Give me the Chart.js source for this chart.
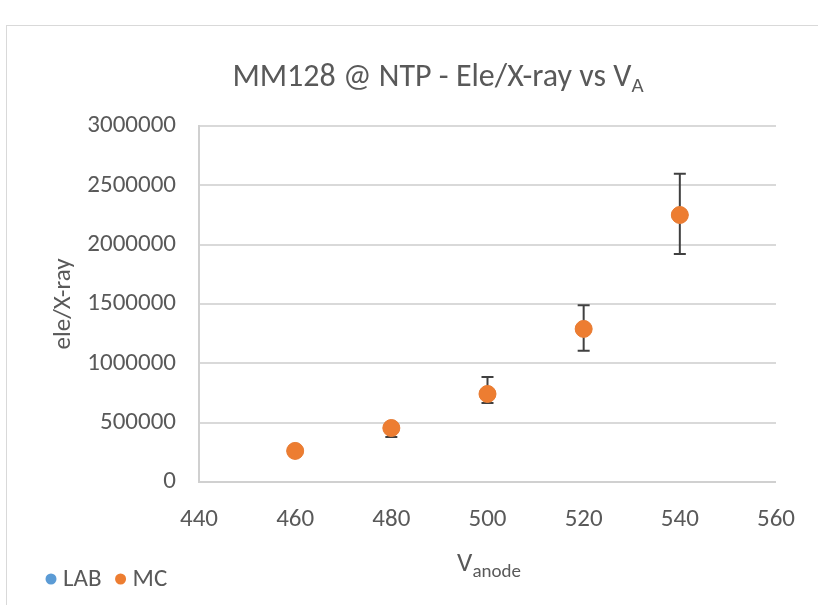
<!DOCTYPE html>
<html>
<head>
<meta charset="utf-8">
<script src="https://cdn.jsdelivr.net/npm/chart.js@4.4.0/dist/chart.umd.min.js"></script>
<style>
  html, body { margin: 0; padding: 0; background: #fff; }
  #wrap { position: relative; width: 818px; height: 605px; }
  #frame { position: absolute; left: 6px; top: 25px; width: 830px; height: 600px; border: 1px solid #d9d9d9; box-sizing: border-box; }
  canvas { position: absolute; left: 0; top: 0; }
</style>
</head>
<body>
<div id="wrap">
  <div id="frame"></div>
  <canvas id="chart" width="818" height="605"></canvas>
</div>
<script>
// data
const vAnode = [460, 480, 500, 520, 540];
const labValues = [262000, 455000, 742000, 1290000, 2250000];
const mcValues = [262000, 455000, 742000, 1290000, 2250000];
const errUpper = [null, 500000, 885000, 1490000, 2597000];
const errLower = [null, 380000, 666000, 1105000, 1922000];
const xTicks = [440, 460, 480, 500, 520, 540, 560];
const yTicks = [0, 500000, 1000000, 1500000, 2000000, 2500000, 3000000];

const FONT = 'Carlito, "Liberation Sans Narrow", "Open Sans", sans-serif';
const TXT = '#595959';

// error bars + titles + legend
const extras = {
  id: 'extras',
  beforeDatasetsDraw(chart) {
    const { ctx, scales: { x, y } } = chart;
    ctx.save();
    ctx.strokeStyle = '#404040';
    ctx.lineWidth = 2;
    vAnode.forEach((v, i) => {
      if (errUpper[i] == null) return;
      const px = x.getPixelForValue(v);
      const top = y.getPixelForValue(errUpper[i]);
      const bot = y.getPixelForValue(errLower[i]);
      ctx.beginPath();
      ctx.moveTo(px, top); ctx.lineTo(px, bot);
      ctx.moveTo(px - 6, top); ctx.lineTo(px + 6, top);
      ctx.moveTo(px - 6, bot); ctx.lineTo(px + 6, bot);
      ctx.stroke();
    });
    ctx.restore();
  },
  afterDraw(chart) {
    const { ctx } = chart;
    ctx.save();
    ctx.textBaseline = 'alphabetic';
    ctx.textAlign = 'left';
    ctx.fillStyle = TXT;

    // title with subscript A
    const t1 = 'MM128 @ NTP - Ele/X-ray vs V';
    ctx.font = '32px ' + FONT;
    const w1 = ctx.measureText(t1).width;
    ctx.font = '21px ' + FONT;
    const w2 = ctx.measureText('A').width;
    const sx = 438 - (w1 + w2) / 2;
    ctx.font = '32px ' + FONT;
    ctx.fillText(t1, sx, 86);
    ctx.font = '21px ' + FONT;
    ctx.fillText('A', sx + w1, 92);

    // x axis title
    ctx.font = '27px ' + FONT;
    const a1 = ctx.measureText('V').width;
    ctx.font = '19px ' + FONT;
    const a2 = ctx.measureText('anode').width;
    const ax = 489 - (a1 + a2) / 2;
    ctx.font = '27px ' + FONT;
    ctx.fillText('V', ax, 571);
    ctx.font = '19px ' + FONT;
    ctx.fillText('anode', ax + a1, 577);

    // y axis title
    ctx.translate(70, 304);
    ctx.rotate(-Math.PI / 2);
    ctx.textAlign = 'center';
    ctx.font = '25px ' + FONT;
    ctx.fillText('ele/X-ray', 0, 0);
    ctx.setTransform(1, 0, 0, 1, 0, 0);

    // legend
    ctx.font = '25px ' + FONT;
    ctx.textAlign = 'left';
    ctx.textBaseline = 'middle';
    const items = [['LAB', '#5B9BD5'], ['MC', '#ED7D31']];
    let lx = 51;
    items.forEach(([name, col]) => {
      ctx.fillStyle = col;
      ctx.beginPath(); ctx.arc(lx, 579, 5.5, 0, Math.PI * 2); ctx.fill();
      ctx.fillStyle = TXT;
      ctx.fillText(name, lx + 12, 580);
      lx += 12 + ctx.measureText(name).width + 19;
    });
    ctx.restore();
  }
};

new Chart(document.getElementById('chart'), {
  type: 'scatter',
  data: {
    datasets: [
      {
        label: 'LAB',
        data: vAnode.map((v, i) => ({ x: v, y: labValues[i] })),
        backgroundColor: '#5B9BD5',
        borderColor: '#5B9BD5',
        pointRadius: 8,
        order: 2
      },
      {
        label: 'MC',
        data: vAnode.map((v, i) => ({ x: v, y: mcValues[i] })),
        backgroundColor: '#ED7D31',
        borderColor: '#ED7D31',
        pointRadius: 8.5,
        order: 1
      }
    ]
  },
  options: {
    responsive: false,
    animation: false,
    events: [],
    layout: { padding: { left: 0, right: 42, top: 126, bottom: 0 } },
    plugins: { legend: { display: false }, tooltip: { enabled: false }, title: { display: false } },
    scales: {
      x: {
        type: 'linear',
        min: 440, max: 560,
        afterBuildTicks(axis) { axis.ticks = xTicks.map(v => ({ value: v })); },
        afterFit(axis) { axis.height = 123; },
        grid: { display: false, drawTicks: false },
        border: { display: true, color: '#d0d0d0', width: 2 },
        ticks: { color: TXT, font: { family: FONT, size: 25 }, padding: 23, maxRotation: 0 }
      },
      y: {
        type: 'linear',
        min: 0, max: 3000000,
        afterBuildTicks(axis) { axis.ticks = yTicks.map(v => ({ value: v })); },
        afterFit(axis) { axis.width = 199; },
        grid: { color: '#d9d9d9', lineWidth: 2, drawTicks: false },
        border: { display: true, color: '#d0d0d0', width: 2 },
        ticks: { color: TXT, font: { family: FONT, size: 25 }, padding: 23, callback: v => String(v) }
      }
    }
  },
  plugins: [extras]
});
</script>
</body>
</html>
